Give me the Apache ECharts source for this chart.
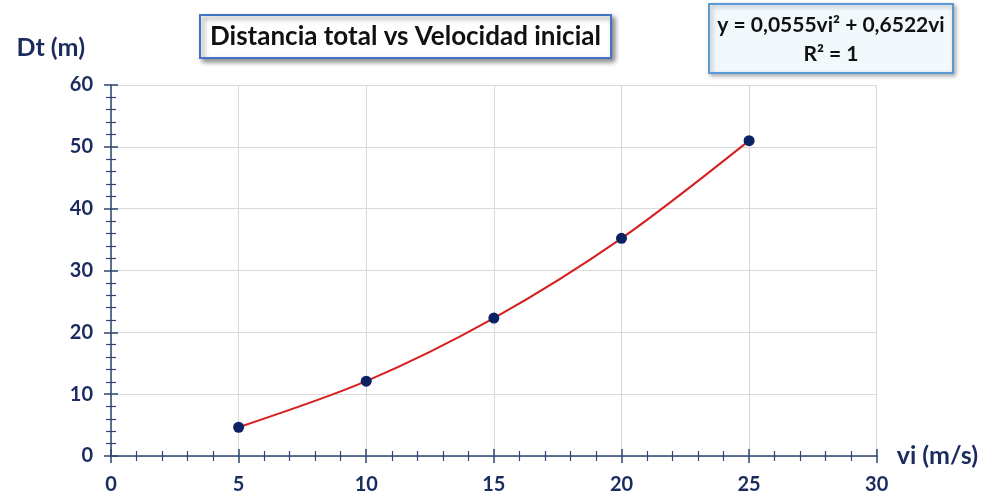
<!DOCTYPE html>
<html>
<head>
<meta charset="utf-8">
<script src="https://cdn.jsdelivr.net/npm/echarts@6/dist/echarts.min.js"></script>
<style>html,body{margin:0;padding:0;background:#fff;}#c{width:981px;height:495px;}</style>
</head>
<body>
<div id="c"></div>
<script>
const velocities = [5, 10, 15, 20, 25];
const distances = [4.65, 12.1, 22.3, 35.2, 51.0];
const chartTitle = 'Distancia total vs Velocidad inicial';
const equationLines = ['y = 0,0555vi² + 0,6522vi', 'R² = 1'];
const xName = 'vi (m/s)';
const yName = 'Dt (m)';

const navy = '#1a2b5e';
const axisColor = '#2c4573';
const font = 'Lato';

const chart = echarts.init(document.getElementById('c'));
const pts = velocities.map((v, i) => [v, distances[i]]);

const baseX = {
  type: 'value', min: 0, max: 30, interval: 5, gridIndex: 0, position: 'bottom'
};
const baseY = {
  type: 'value', min: 0, max: 60, interval: 10, gridIndex: 0, position: 'left'
};

chart.setOption({
  animation: false,
  backgroundColor: '#fff',
  title: {
    text: chartTitle,
    left: 200, top: 15,
    padding: [9, 10, 8, 10],
    borderColor: '#4472c4', borderWidth: 2,
    backgroundColor: '#fff',
    shadowBlur: 5, shadowColor: 'rgba(0,0,0,0.45)', shadowOffsetX: 3, shadowOffsetY: 3,
    textStyle: { fontFamily: font, fontWeight: 'bold', fontSize: 26, color: '#111' }
  },
  graphic: [{
    type: 'group', left: 708, top: 3,
    children: [{
      type: 'rect', shape: { x: 0, y: 0, width: 244, height: 69 },
      style: { fill: '#f2f9fd', stroke: '#5b9bd5', lineWidth: 2,
               shadowBlur: 4, shadowColor: 'rgba(0,0,0,0.3)', shadowOffsetX: 2, shadowOffsetY: 2 }
    }, {
      type: 'text', x: 122, y: 36,
      style: { text: equationLines.join('\n'), align: 'center', verticalAlign: 'middle',
               fontFamily: font, fontWeight: 'bold', fontSize: 21, lineHeight: 29, fill: '#111' }
    }]
  }],
  grid: { left: 111, right: 104, top: 85, bottom: 37, containLabel: false },
  xAxis: [
    Object.assign({}, baseX, {
      name: xName, nameLocation: 'end', nameGap: 20,
      nameTextStyle: { fontFamily: font, fontWeight: 'bold', fontSize: 25, color: navy, verticalAlign: 'middle' },
      axisLine: { show: true, lineStyle: { color: axisColor, width: 1.5 } },
      axisTick: { show: true, inside: false, length: 7, lineStyle: { color: axisColor, width: 1.5 } },
      minorTick: { show: true, splitNumber: 5, length: 5, lineStyle: { color: axisColor, width: 1.2 } },
      axisLabel: { fontFamily: font, fontWeight: 'bold', fontSize: 20, color: navy, margin: 19 },
      splitLine: { show: true, lineStyle: { color: '#d9d9d9', width: 1 } }
    }),
    Object.assign({}, baseX, {
      axisLine: { show: false },
      axisTick: { show: true, inside: true, length: 7, lineStyle: { color: axisColor, width: 1.5 } },
      minorTick: { show: true, splitNumber: 5, length: 5, lineStyle: { color: axisColor, width: 1.2 } },
      axisLabel: { show: false },
      splitLine: { show: false }
    })
  ],
  yAxis: [
    Object.assign({}, baseY, {
      name: yName, nameLocation: 'end', nameGap: 25,
      nameTextStyle: { fontFamily: font, fontWeight: 'bold', fontSize: 25, color: navy, align: 'right', padding: [0, 26, 0, 0] },
      axisLine: { show: true, lineStyle: { color: axisColor, width: 1.5 } },
      axisTick: { show: true, inside: false, length: 7, lineStyle: { color: axisColor, width: 1.5 } },
      minorTick: { show: true, splitNumber: 5, length: 5, lineStyle: { color: axisColor, width: 1.2 } },
      axisLabel: { fontFamily: font, fontWeight: 'bold', fontSize: 20, color: navy, margin: 18 },
      splitLine: { show: true, lineStyle: { color: '#d9d9d9', width: 1 } }
    }),
    Object.assign({}, baseY, {
      axisLine: { show: false },
      axisTick: { show: true, inside: true, length: 7, lineStyle: { color: axisColor, width: 1.5 } },
      minorTick: { show: true, splitNumber: 5, length: 5, lineStyle: { color: axisColor, width: 1.2 } },
      axisLabel: { show: false },
      splitLine: { show: false }
    })
  ],
  series: [{
    type: 'line',
    xAxisIndex: 0, yAxisIndex: 0,
    data: pts,
    smooth: 0.3,
    symbol: 'circle', symbolSize: 11,
    lineStyle: { color: '#d61f1f', width: 2 },
    itemStyle: { color: '#0b2263' },
    z: 5
  }]
});
</script>
</body>
</html>
